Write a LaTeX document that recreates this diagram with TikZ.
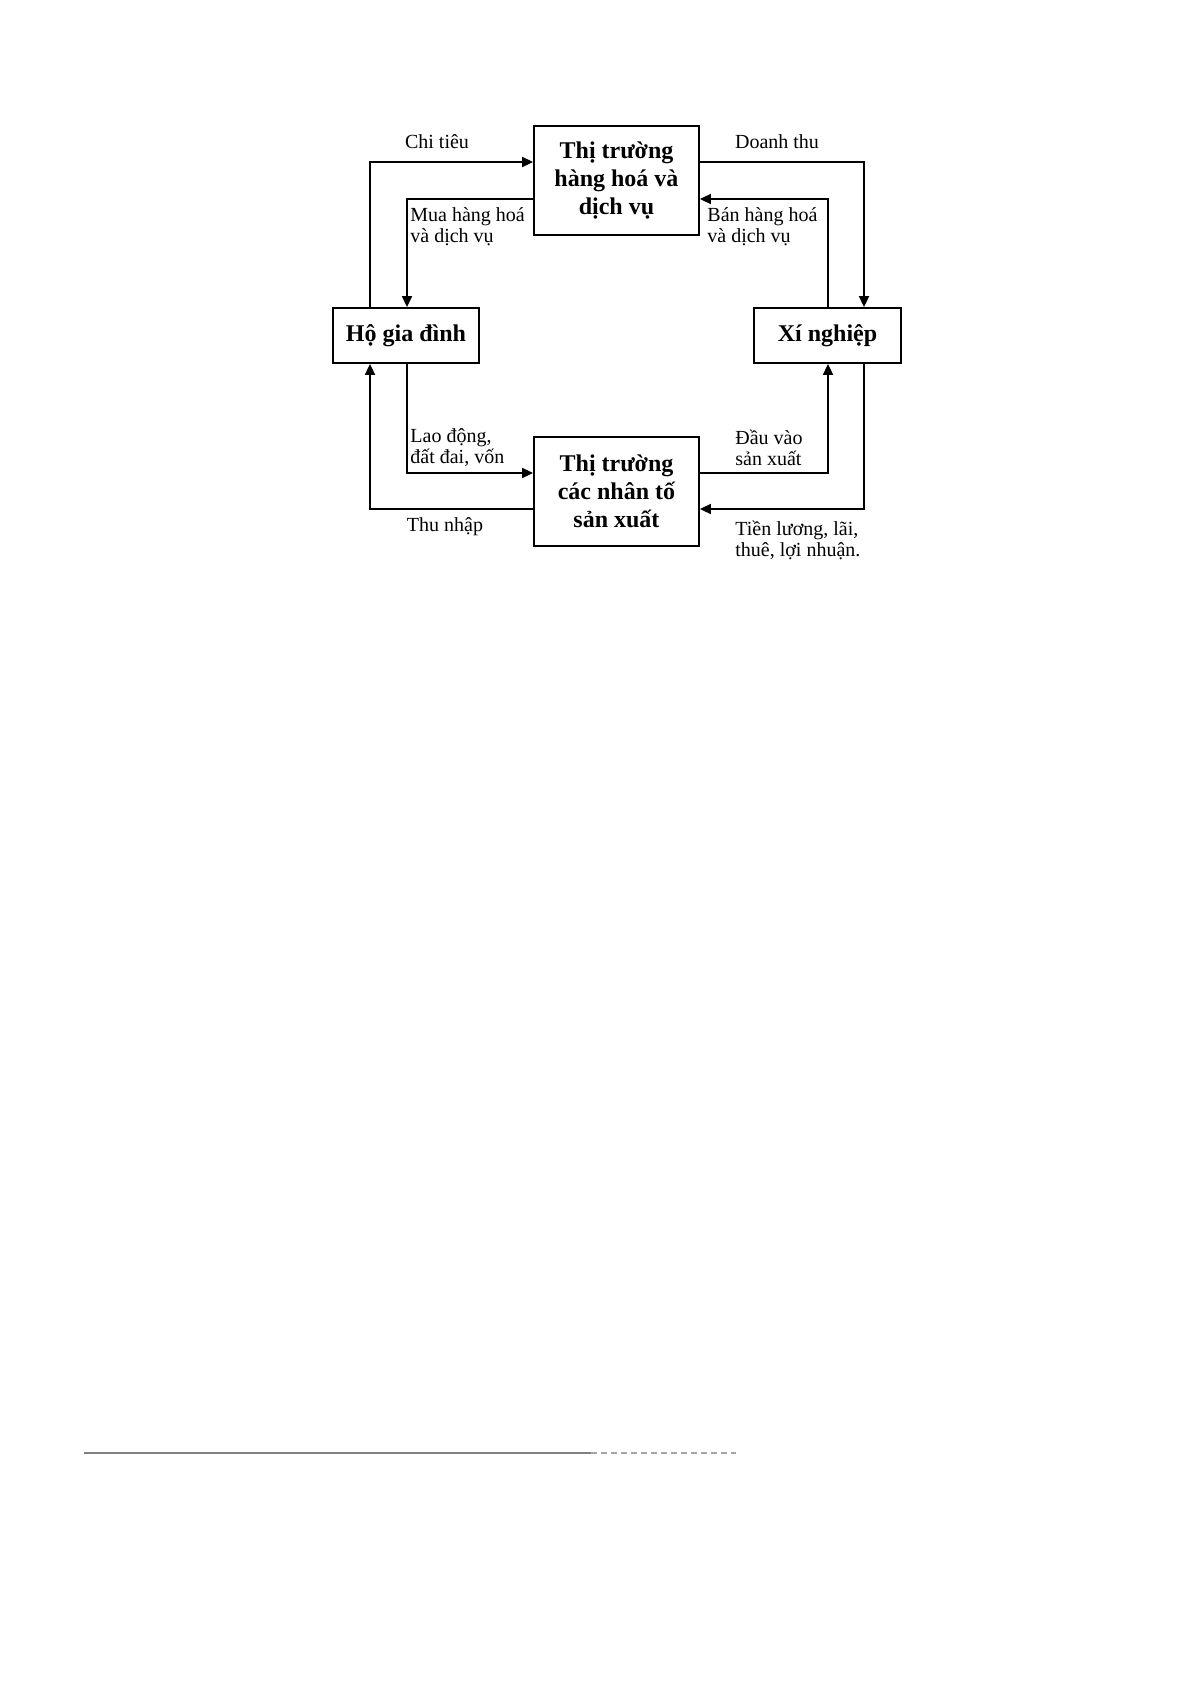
\documentclass[tikz,border=0pt]{standalone}
\usepackage{fontspec}
\setmainfont{Liberation Serif}
\usetikzlibrary{arrows.meta}
\begin{document}
\begin{tikzpicture}[x=0.5pt,y=-0.5pt,
  box/.style={draw,line width=0.9pt,minimum width=#1,inner sep=0pt,align=center,
    font=\fontsize{12}{14}\selectfont\bfseries},
  conn/.style={line width=0.85pt,-{Triangle[length=5.5pt,width=5pt]}},
  lbl/.style={inner sep=0pt,align=left,font=\fontsize{10}{10.5}\selectfont}]
\useasboundingbox (0,0) rectangle (1191,1685);
\fill[white] (0,0) rectangle (1191,1685);
% boxes
\node[box=82.5pt,minimum height=54.5pt] (goods) at (616.5,180.5) {Thị trường\\hàng hoá và\\dịch vụ};
\node[box=82.5pt,minimum height=54.5pt] (factors) at (616.5,491.5) {Thị trường\\các nhân tố\\sản xuất};
\node[box=73pt,minimum height=27.5pt] (house) at (406,335.5) {Hộ gia đình};
\node[box=73.5pt,minimum height=27.5pt] (firm) at (827.5,335.5) {Xí nghiệp};
% connectors
\draw[conn] (house.north -| 370,0) |- (goods.west |- 0,162);
\draw[conn] (goods.west |- 0,199) -| (house.north -| 407,0);
\draw[conn] (goods.east |- 0,162) -| (firm.north -| 864,0);
\draw[conn] (firm.north -| 828,0) |- (goods.east |- 0,199);
\draw[conn] (house.south -| 407,0) |- (factors.west |- 0,473);
\draw[conn] (factors.west |- 0,509) -| (house.south -| 370,0);
\draw[conn] (factors.east |- 0,473) -| (firm.south -| 828,0);
\draw[conn] (firm.south -| 864,0) |- (factors.east |- 0,509);
% labels
\node[lbl] (l1) at (437,142) {Chi tiêu};
\node[lbl] (l2) at (777,142) {Doanh thu};
\node[lbl,anchor=west] (l3) at (410,227) {Mua hàng hoá\\và dịch vụ};
\node[lbl,anchor=west] (l4) at (707,227) {Bán hàng hoá\\và dịch vụ};
\node[lbl,anchor=west] (l5) at (410,448) {Lao động,\\đất đai, vốn};
\node[lbl] (l6) at (445,527) {Thu nhập};
\node[lbl,anchor=west] (l7) at (735,448) {Đầu vào\\sản xuất};
\node[lbl,anchor=west] (l8) at (735,540) {Tiền lương, lãi,\\thuê, lợi nhuận.};
% footer rule
\draw[gray,line width=1pt] (84,1453) -- (591,1453);
\draw[gray!70,line width=1pt,densely dashed] (591,1453) -- (736,1453);
\end{tikzpicture}
\end{document}
